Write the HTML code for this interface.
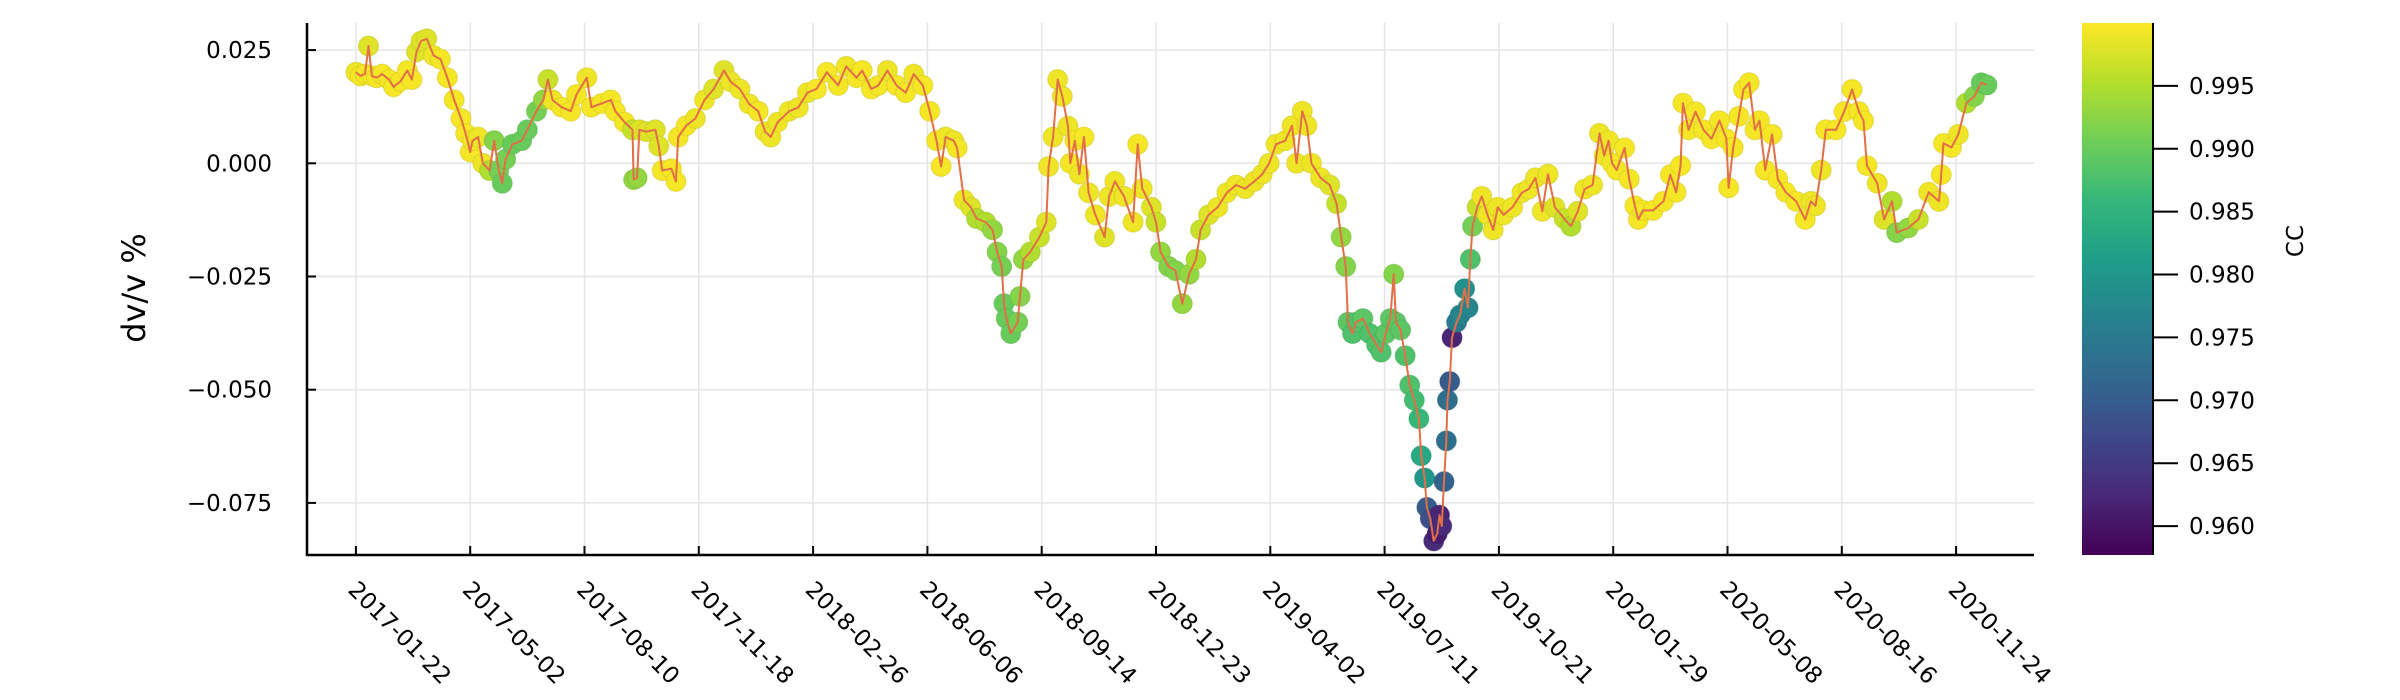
<!DOCTYPE html>
<html><head><meta charset="utf-8"><style>
html,body{margin:0;padding:0;background:#fff;}
svg{display:block;font-family:"DejaVu Sans","Liberation Sans",sans-serif;}
</style></head><body>
<svg id="chart" width="2400" height="700" viewBox="0 0 2400 700" xmlns="http://www.w3.org/2000/svg">
<defs>
<linearGradient id="viridis" x1="0" y1="1" x2="0" y2="0">
<stop offset="0" stop-color="#440154"/><stop offset="0.111" stop-color="#482878"/><stop offset="0.222" stop-color="#3e4989"/><stop offset="0.333" stop-color="#31688e"/><stop offset="0.444" stop-color="#26828e"/><stop offset="0.556" stop-color="#1f9e89"/><stop offset="0.667" stop-color="#35b779"/><stop offset="0.778" stop-color="#6ece58"/><stop offset="0.889" stop-color="#b5de2b"/><stop offset="1" stop-color="#fde725"/>
</linearGradient>
<clipPath id="plotclip"><rect x="307" y="23" width="1727" height="532"/></clipPath>
</defs>
<g id="grid"></g>
<g id="marks" clip-path="url(#plotclip)"></g>
<g id="axes"></g>
<text transform="translate(145,288) rotate(-90)" text-anchor="middle" font-size="32">dv/v %</text>
<rect x="2082" y="23" width="71" height="532" fill="url(#viridis)"/>
<line x1="2153" y1="23" x2="2153" y2="555" stroke="#000" stroke-width="2"/>
<g id="cbticks"></g>
<text transform="translate(2303,241) rotate(-90)" text-anchor="middle" font-size="23">CC</text>
</svg>
<script>
const days=[0,4,8,11,14,18,23,29,33,39,
45,49,53,57,62,68,74,80,86,92,
96,100,102,107,111,117,121,125,128,131,
137,145,150,158,164,168,172,180,188,193,
202,206,215,223,227,235,242,243,246,248,
254,262,265,268,276,280,282,289,297,305,
313,322,328,336,344,352,358,363,369,379,
387,395,403,412,422,429,438,443,451,457,
465,473,481,488,496,502,508,512,516,523,
526,532,538,543,551,557,561,565,567,569,
573,579,581,584,590,598,604,606,610,614,
618,623,625,629,633,637,641,647,655,659,
664,672,680,684,688,696,700,704,711,717,
723,729,735,739,746,754,762,770,778,786,
793,799,805,813,819,823,828,832,836,844,
852,858,862,866,868,872,875,881,887,893,
897,901,905,908,910,914,918,922,926,930,
932,935,937,940,943,946,948,950,952,954,
955,957,959,963,966,970,973,975,977,981,
985,990,995,999,1004,1012,1020,1026,1032,1038,
1043,1049,1057,1063,1069,1075,1082,1088,1092,1096,
1099,1103,1110,1114,1119,1122,1126,1135,1144,1150,
1155,1159,1161,1166,1172,1179,1186,1193,1199,1201,
1205,1210,1214,1219,1224,1228,1233,1239,1244,1251,
1260,1268,1273,1277,1282,1286,1295,1302,1309,1315,
1319,1322,1331,1337,1344,1348,1358,1367,1376,1385,
1387,1389,1396,1402,1409,1416,1422,1427];
const dvv=[.0201,.0193,.0197,.0259,.0193,.0189,.0197,.0185,.0169,.0181,
.0205,.0185,.0246,.0270,.0275,.0238,.0230,.0189,.0140,.0099,
.0066,.0025,.0050,.0058,0,-.0016,.0050,-.0016,-.0044,.0009,
.0042,.0050,.0074,.0115,.0140,.0185,.0140,.0124,.0115,.0152,
.0189,.0124,.0132,.0140,.0115,.0091,.0074,-.0036,-.0032,.0074,
.0070,.0074,.0038,-.0016,-.0012,-.0040,.0058,.0083,.0099,.0140,
.0164,.0205,.0180,.0164,.0131,.0115,.0070,.0058,.0091,.0115,
.0123,.0156,.0164,.0201,.0172,.0214,.0189,.0205,.0164,.0172,
.0205,.0172,.0156,.0197,.0172,.0115,.0050,-.0007,.0058,.0050,
.0034,-.0081,-.0097,-.0122,-.0130,-.0147,-.0196,-.0228,-.0310,-.0343,
-.0376,-.0351,-.0294,-.0212,-.0196,-.0163,-.0130,-.0007,.0058,.0185,
.0148,.0082,0,.0050,-.0024,.0058,-.0065,-.0114,-.0163,-.0073,
-.0040,-.0073,-.0130,.0042,-.0056,-.0097,-.0130,-.0196,-.0228,-.0237,
-.0310,-.0245,-.0212,-.0147,-.0114,-.0097,-.0065,-.0048,-.0056,-.0040,
-.0024,0,.0042,.0050,.0083,0,.0115,.0083,0,-.0032,
-.0048,-.0089,-.0163,-.0228,-.0351,-.0376,-.0351,-.0343,-.0376,-.0401,
-.0417,-.0376,-.0343,-.0245,-.0351,-.0368,-.0425,-.0490,-.0523,-.0564,
-.0646,-.0695,-.0760,-.0785,-.0834,-.0818,-.0777,-.0801,-.0703,-.0613,
-.0523,-.0482,-.0385,-.0351,-.0335,-.0277,-.0319,-.0212,-.0139,-.0097,
-.0073,-.0114,-.0147,-.0097,-.0114,-.0097,-.0065,-.0057,-.0032,-.0106,
-.0024,-.0097,-.0122,-.0139,-.0106,-.0057,-.0048,.0066,.0017,.0050,
0,-.0015,.0034,-.0035,-.0094,-.0124,-.0104,-.0104,-.0084,-.0025,
-.0064,-.0005,.0133,.0074,.0114,.0074,.0054,.0094,.0054,-.0054,
.0035,.0104,.0163,.0178,.0074,.0094,-.0015,.0064,-.0035,-.0064,
-.0084,-.0124,-.0084,-.0094,-.0015,.0074,.0074,.0114,.0163,.0114,
.0094,-.0005,-.0044,-.0124,-.0084,-.0153,-.0143,-.0124,-.0064,-.0084,
-.0025,.0044,.0035,.0064,.0133,.0148,.0178,.0173];
const cc=[.999,.9995,.9995,.998,.9995,.9995,.9995,.9995,.9995,.9995,
.9995,.9995,.998,.998,.998,.999,.9995,.9995,.9995,.9995,
.9995,.9995,.9995,.999,.999,.995,.992,.991,.990,.991,
.990,.990,.990,.991,.993,.9965,.999,.9995,.9995,.9995,
.999,.9995,.9995,.9995,.9995,.9995,.9965,.993,.993,.998,
.998,.998,.998,.9995,.9995,.9995,.9995,.9995,.999,.999,
.998,.998,.999,.999,.999,.9995,.999,.999,.999,.999,
.999,.999,.9995,.9995,.9995,.999,.9995,.9995,.9995,.9995,
.999,.9995,.9995,.999,.9995,.9995,.9995,.9995,.999,.999,
.9995,.999,.998,.995,.995,.993,.992,.991,.990,.990,
.990,.991,.992,.993,.995,.9965,.998,.999,.999,.999,
.999,.999,.9995,.9995,.999,.9995,.999,.999,.998,.999,
.999,.999,.999,.9995,.999,.998,.9965,.993,.992,.992,
.993,.993,.995,.9965,.998,.999,.999,.999,.999,.999,
.999,.999,.999,.999,.999,.999,.999,.999,.999,.999,
.998,.9965,.993,.992,.989,.988,.988,.989,.988,.988,
.988,.989,.989,.992,.989,.989,.988,.988,.987,.986,
.983,.980,.970,.968,.963,.961,.962,.963,.971,.973,
.973,.970,.962,.975,.977,.979,.977,.988,.991,.9965,
.999,.999,.999,.999,.999,.999,.999,.999,.999,.999,
.999,.998,.9965,.995,.998,.999,.999,.999,.999,.999,
.9995,.9995,.9995,.9995,.9995,.9995,.9995,.9995,.9995,.9995,
.9995,.9995,.9995,.9995,.9995,.9995,.9995,.9995,.9995,.9995,
.9995,.9995,.9995,.9995,.9995,.9995,.9995,.9995,.9995,.9995,
.9995,.9995,.999,.999,.999,.9995,.9995,.9995,.9995,.9995,
.9995,.9995,.999,.998,.995,.992,.993,.9965,.999,.999,
.9995,.9995,.9995,.999,.995,.992,.990,.990];
const xTickLabels=["2017-01-22","2017-05-02","2017-08-10","2017-11-18","2018-02-26","2018-06-06","2018-09-14","2018-12-23","2019-04-02","2019-07-11","2019-10-21","2020-01-29","2020-05-08","2020-08-16","2020-11-24"];
const xTickDays=[0,100,200,300,400,500,600,700,800,900,1000,1100,1200,1300,1400];
const yTicks=[0.025,0,-0.025,-0.05,-0.075];
const yTickLabels=["0.025","0.000","\u22120.025","\u22120.050","\u22120.075"];
const cbTicks=[0.995,0.99,0.985,0.98,0.975,0.97,0.965,0.96];
const cbTickLabels=["0.995","0.990","0.985","0.980","0.975","0.970","0.965","0.960"];
const ccMin=0.9577, ccMax=1.0;

const NS="http://www.w3.org/2000/svg";
const X0=307,X1=2034,Y0=23,Y1=555;
function xs(d){return 355.9+d*1.143;}
function ys(v){return 163.3-v*4528;}
function cbY(c){return 555-(c-ccMin)/(ccMax-ccMin)*532;}
const vir=["#440154","#482878","#3e4989","#31688e","#26828e","#1f9e89","#35b779","#6ece58","#b5de2b","#fde725"];
function hex(h){return [parseInt(h.substr(1,2),16),parseInt(h.substr(3,2),16),parseInt(h.substr(5,2),16)];}
function viridis(c){let t=(c-ccMin)/(ccMax-ccMin);t=Math.max(0,Math.min(1,t));const p=t*(vir.length-1);const i=Math.min(vir.length-2,Math.floor(p));const f=p-i;const a=hex(vir[i]),b=hex(vir[i+1]);return a.map((v,k)=>Math.round(v+(b[k]-v)*f));}
function mk(tag,attrs,parent){const e=document.createElementNS(NS,tag);for(const k in attrs)e.setAttribute(k,attrs[k]);parent.appendChild(e);return e;}

const grid=document.getElementById('grid');
const axes=document.getElementById('axes');
const marks=document.getElementById('marks');
const cbt=document.getElementById('cbticks');

xTickDays.forEach((d,i)=>{
  const x=xs(d);
  const g=mk('line',{x1:x,y1:Y0,x2:x,y2:Y1,stroke:'#e5e5e5','stroke-width':1.5},grid);
  
  
  const t=mk('line',{x1:x,y1:Y1,x2:x,y2:Y1-9,stroke:'#000','stroke-width':2},axes);
  
  
  const lbl=mk('text',{transform:`translate(${x-9},591) rotate(45)`,'font-size':23,fill:'#000'},axes);
  lbl.textContent=xTickLabels[i];
  
  
});
yTicks.forEach((v,i)=>{
  const y=ys(v);
  const g=mk('line',{x1:X0,y1:y,x2:X1,y2:y,stroke:'#e5e5e5','stroke-width':1.5},grid);
  
  
  const t=mk('line',{x1:X0,y1:y,x2:X0+9,y2:y,stroke:'#000','stroke-width':2},axes);
  
  
  const lbl=mk('text',{x:272,y:y+8,'text-anchor':'end','font-size':23,fill:'#000'},axes);
  lbl.textContent=yTickLabels[i];
  
  
});
const sp1=mk('line',{x1:X0,y1:Y0,x2:X0,y2:Y1+1,stroke:'#000','stroke-width':2.5},axes);


const sp2=mk('line',{x1:X0-1,y1:Y1,x2:X1,y2:Y1,stroke:'#000','stroke-width':2.5},axes);



days.forEach((d,i)=>{
  const [r,g,b]=viridis(cc[i]);
  const c=mk('circle',{cx:xs(d),cy:ys(dvv[i]),r:10,fill:`rgb(${r},${g},${b})`,stroke:`rgb(${Math.round(r*0.85)},${Math.round(g*0.85)},${Math.round(b*0.85)})`,'stroke-width':1,'stroke-opacity':0.5},marks);
  
  
});
const pts=days.map((d,i)=>xs(d).toFixed(1)+','+ys(dvv[i]).toFixed(1)).join(' ');
const line=mk('polyline',{points:pts,fill:'none',stroke:'#e26f46','stroke-width':2,'stroke-linejoin':'round'},marks);



cbTicks.forEach((c,i)=>{
  const y=cbY(c);
  const t=mk('line',{x1:2153,y1:y,x2:2178,y2:y,stroke:'#000','stroke-width':2},cbt);
  
  
  const lbl=mk('text',{x:2189,y:y+8,'font-size':23,fill:'#000'},cbt);
  lbl.textContent=cbTickLabels[i];
  
  
});
</script>
</body></html>
